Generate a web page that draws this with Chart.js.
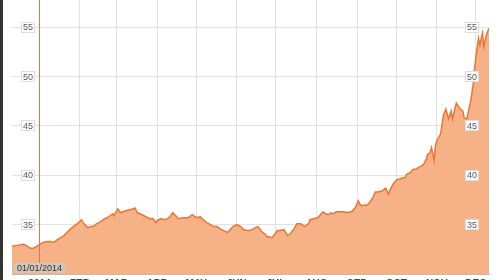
<!DOCTYPE html>
<html>
<head>
<meta charset="utf-8">
<script src="https://cdn.jsdelivr.net/npm/chart.js@4"></script>
<style>
  html,body{margin:0;padding:0;overflow:hidden;background:#fff;}
  body{width:500px;height:280px;}
  #wrap{position:absolute;left:0;top:0;width:500px;height:294px;border-left:3px solid #333;box-sizing:border-box;}
</style>
</head>
<body>
<div id="wrap"><canvas id="chart"></canvas></div>
<script>
// days counted from 01/01/2014
const days = [-21,-17,-12,-9,-7,-5,-2,-1,3,6,8,11,14,18,21,24,28,30,32,34,37,39,41,44,47,50,52,54,56,57,60,62,66,69,72,73,75,77,80,83,85,87,89,91,93,96,98,100,102,105,106,110,114,117,119,121,123,126,128,131,133,136,138,141,144,146,148,151,154,156,159,161,164,167,169,170,173,174,178,180,182,184,187,190,192,194,197,200,201,203,206,207,210,213,215,217,219,221,223,225,227,230,233,235,238,239,242,244,245,247,249,251,253,255,257,259,262,265,267,269,271,274,276,277,280,281,284,286,288,290,292,294,296,297,299,300,301,302,303,304,307,309,311,313,315,316,319,321,322,324,325,327,330,332,333,335,336,337,339,340,342,344];
const prices = [32.8,32.9,33.0,32.8,32.6,32.6,32.8,32.9,33.2,33.3,33.3,33.2,33.5,33.8,34.2,34.6,35.0,35.2,35.5,35.1,34.7,34.8,34.8,35.1,35.3,35.6,35.7,35.9,36.1,35.9,36.6,36.2,36.4,36.5,36.6,36.7,36.2,36.1,35.9,35.7,35.6,35.6,35.2,35.5,35.6,35.5,35.6,35.8,36.2,35.8,35.6,35.7,35.7,36.0,35.8,35.7,35.8,35.4,35.2,35.0,34.8,34.8,34.6,34.4,34.2,34.5,34.8,35.0,34.8,34.5,34.4,34.4,34.6,34.8,34.5,34.3,34.0,33.8,33.7,34.0,34.4,34.4,34.5,33.9,34.1,34.4,35.1,35.1,35.0,34.8,35.1,35.5,35.6,35.7,36.0,36.3,36.1,36.0,36.2,36.1,36.3,36.3,36.3,36.2,36.3,36.3,36.8,37.4,37.1,36.9,37.0,37.0,37.3,37.7,38.3,38.3,38.4,38.7,38.1,38.7,39.2,39.6,39.6,39.7,39.8,40.1,40.3,40.6,40.6,40.8,40.9,41.1,41.6,42.1,42.3,42.8,42.2,41.5,43.0,43.5,44.2,46.0,46.7,45.7,46.5,45.7,47.3,46.9,46.7,46.5,45.8,45.7,47.5,49.3,50.9,53.0,53.9,53.2,54.4,53.0,54.2,54.9];

const monthStarts = [0,31,59,90,120,151,181,212,243,273,304,334];
const monthLabels = ["2014","FEB","MAR","APR","MAY","JUN","JUL","AUG","SEP","OCT","NOV","DEC"];
const yTicks = [35,40,45,50,55];
const markerDay = 0;
const markerLabel = "01/01/2014";

const points = days.map((d,i) => ({x:d, y:prices[i]}));

function box(ctx, cx, cy, text, bg, border, color){
  ctx.font = "9px 'Liberation Sans', Arial, sans-serif";
  const w = ctx.measureText(text).width + 4, h = 11;
  ctx.fillStyle = bg;
  ctx.fillRect(Math.round(cx - w/2), Math.round(cy - h/2), w, h);
  if(border){ ctx.strokeStyle = border; ctx.lineWidth = 1; ctx.strokeRect(Math.round(cx - w/2)+0.5, Math.round(cy - h/2)+0.5, w-1, h-1); }
  ctx.fillStyle = color;
  ctx.textAlign = "center"; ctx.textBaseline = "middle";
  ctx.fillText(text, cx, cy + 0.5);
}

const overlay = {
  id:"overlay",
  afterDraw(chart){
    const {ctx, chartArea, scales:{x, y}} = chart;
    ctx.save();
    // marker line
    const mx = Math.round(x.getPixelForValue(markerDay)) + 0.5;
    ctx.strokeStyle = "rgba(214,110,80,0.9)";
    ctx.lineWidth = 1;
    ctx.beginPath(); ctx.moveTo(mx, 0); ctx.lineTo(mx, chartArea.bottom - 11); ctx.stroke();
    // y labels on both sides
    yTicks.forEach(v => {
      const py = y.getPixelForValue(v);
      box(ctx, 25, py, String(v), "#fff", "#ddd", "#555");
      box(ctx, 469, py, String(v), "#fff", "#ddd", "#555");
    });
    // marker label
    ctx.font = "9px 'Liberation Sans', Arial, sans-serif";
    const w = ctx.measureText(markerLabel).width + 6;
    ctx.fillStyle = "rgba(205,200,195,0.85)";
    ctx.fillRect(mx - w/2, chartArea.bottom - 11, w, 10);
    ctx.fillStyle = "#333";
    ctx.textAlign = "center"; ctx.textBaseline = "middle";
    ctx.fillText(markerLabel, mx, chartArea.bottom - 5.5);
    ctx.restore();
  }
};

new Chart(document.getElementById("chart"), {
  type:"line",
  data:{ datasets:[{
    data: points,
    borderColor:"rgb(232,118,58)",
    backgroundColor:"rgb(246,178,134)",
    borderWidth:1.5,
    fill:"start",
    pointRadius:0,
    tension:0
  }]},
  options:{
    responsive:true,
    maintainAspectRatio:false,
    animation:false,
    layout:{ padding:{ left:9, right:11, top:0, bottom:0 } },
    plugins:{ legend:{display:false}, tooltip:{enabled:false} },
    scales:{
      x:{
        type:"linear", min:-21, max:344, z:1,
        afterBuildTicks: s => { s.ticks = monthStarts.map(v => ({value:v})); },
        ticks:{ color:"#444", padding:4, maxRotation:0, autoSkip:false,
          font:{ family:"'Liberation Sans', Arial, sans-serif", size:10, weight:"bold" },
          callback: (v) => monthLabels[monthStarts.indexOf(v)] },
        grid:{ color:"rgba(190,190,190,0.45)", drawTicks:false },
        border:{ display:true, color:"#bbb" }
      },
      y:{
        min:30, max:57.75, z:1,
        afterBuildTicks: s => { s.ticks = yTicks.map(v => ({value:v})); },
        ticks:{ display:false },
        grid:{ color:"rgba(190,190,190,0.45)", drawTicks:false },
        border:{ display:false }
      }
    }
  },
  plugins:[overlay]
});
</script>
</body>
</html>
